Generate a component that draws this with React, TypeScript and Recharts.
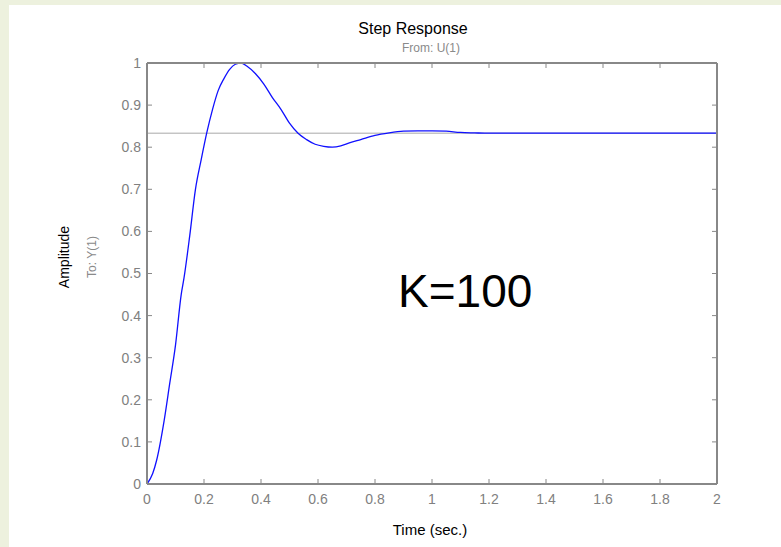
import { LineChart, Line, XAxis, YAxis, ReferenceLine } from 'recharts'

// step response, K=100
const timeSec = [
  0, 0.02, 0.034, 0.06, 0.08, 0.1, 0.12, 0.13, 0.15, 0.17, 0.19, 0.21, 0.23, 0.25, 0.27, 0.29,
  0.31, 0.33, 0.35, 0.38, 0.41, 0.44, 0.47, 0.5, 0.53, 0.56, 0.59, 0.62, 0.65, 0.68, 0.71, 0.75,
  0.8, 0.85, 0.9, 0.95, 1.0, 1.05, 1.1, 1.15, 1.2, 2.0,
]
const amplitude = [
  0, 0.025, 0.057, 0.15, 0.24, 0.33, 0.45, 0.49, 0.59, 0.7, 0.77, 0.835, 0.89, 0.935, 0.963, 0.985,
  0.997, 1.0, 0.993, 0.975, 0.95, 0.918, 0.89, 0.857, 0.833, 0.818, 0.807, 0.802, 0.8, 0.803, 0.81, 0.818,
  0.828, 0.834, 0.838, 0.839, 0.839, 0.838, 0.835, 0.834, 0.8333, 0.8333,
]
const finalValue = 0.8333
const xTicks = [0, 0.2, 0.4, 0.6, 0.8, 1, 1.2, 1.4, 1.6, 1.8, 2]
const yTicks = [0, 0.1, 0.2, 0.3, 0.4, 0.5, 0.6, 0.7, 0.8, 0.9, 1]

const data = timeSec.map((t, i) => ({ t, y: amplitude[i] }))

const FONT = '"Liberation Sans", Arial, sans-serif'
const AXIS = '#888888'
const fmt = (v: number) => String(+v.toFixed(1))
const noLabel = () => <g />

function Rotated({ cx, cy, size, color, children }: any) {
  return (
    <div
      style={{
        position: 'absolute', left: cx - 100, top: cy - size / 2, width: 200, height: size,
        lineHeight: `${size}px`, fontSize: size, color, textAlign: 'center',
        transform: 'rotate(-90deg)', transformOrigin: 'center', fontFamily: FONT,
      }}
    >
      {children}
    </div>
  )
}

export default function App() {
  return (
    <div style={{ position: 'absolute', left: 0, top: 0, width: 781, height: 547, background: '#edf1de', overflow: 'hidden' }}>
      <div style={{ position: 'absolute', left: 9, top: 5, width: 772, height: 542, background: '#ffffff' }} />
      <div style={{ position: 'absolute', left: 0, top: 0 }}>
        <LineChart width={781} height={547} data={data} margin={{ top: 62, right: 63, bottom: 33, left: 87 }}>
          <XAxis
            dataKey="t" type="number" domain={[0, 2]} ticks={xTicks} interval={0} tickFormatter={fmt}
            height={30} tickSize={-5} tickMargin={15}
            stroke={AXIS} axisLine={{ stroke: AXIS, strokeWidth: 2 }} tickLine={{ stroke: AXIS }}
            tick={{ fill: '#808080', fontSize: 14, fontFamily: FONT }}
          />
          <XAxis
            xAxisId="top" orientation="top" dataKey="t" type="number" domain={[0, 2]} ticks={xTicks} interval={0}
            height={1} tickSize={-5} stroke={AXIS} axisLine={{ stroke: AXIS, strokeWidth: 2 }} tickLine={{ stroke: AXIS }}
            tick={noLabel}
          />
          <YAxis
            type="number" domain={[0, 1]} ticks={yTicks} interval={0} tickFormatter={fmt}
            width={60} tickSize={-5} tickMargin={11}
            stroke={AXIS} axisLine={{ stroke: AXIS, strokeWidth: 2 }} tickLine={{ stroke: AXIS }}
            tick={{ fill: '#808080', fontSize: 14, fontFamily: FONT }}
          />
          <YAxis
            yAxisId="right" orientation="right" type="number" domain={[0, 1]} ticks={yTicks} interval={0}
            width={1} tickSize={-5} stroke={AXIS} axisLine={{ stroke: AXIS, strokeWidth: 2 }} tickLine={{ stroke: AXIS }}
            tick={noLabel}
          />
          <ReferenceLine y={finalValue} stroke="#a8a8a8" strokeWidth={1} />
          <Line
            type="monotone" dataKey="y" stroke="#1010ff" strokeWidth={1.3} dot={false}
            isAnimationActive={false}
          />
          <Line
            xAxisId="top" yAxisId="right" dataKey="y" stroke="none" dot={false} legendType="none"
            isAnimationActive={false}
          />
        </LineChart>
      </div>
      <div style={{ position: 'absolute', left: 313, top: 21, width: 200, textAlign: 'center', fontSize: 16, lineHeight: '16px', fontFamily: FONT, color: '#000' }}>
        Step Response
      </div>
      <div style={{ position: 'absolute', left: 331, top: 42, width: 200, textAlign: 'center', fontSize: 12, lineHeight: '12px', fontFamily: FONT, color: '#8a8a8a' }}>
        From: U(1)
      </div>
      <div style={{ position: 'absolute', left: 330, top: 522, width: 200, textAlign: 'center', fontSize: 15, lineHeight: '15px', fontFamily: FONT, color: '#000' }}>
        Time (sec.)
      </div>
      <Rotated cx={64} cy={257} size={14} color="#000">Amplitude</Rotated>
      <Rotated cx={92} cy={257} size={12} color="#8a8a8a">To: Y(1)</Rotated>
      <div style={{ position: 'absolute', left: 398, top: 268, fontSize: 46, lineHeight: '46px', fontFamily: FONT, color: '#000' }}>
        K=100
      </div>
    </div>
  )
}
